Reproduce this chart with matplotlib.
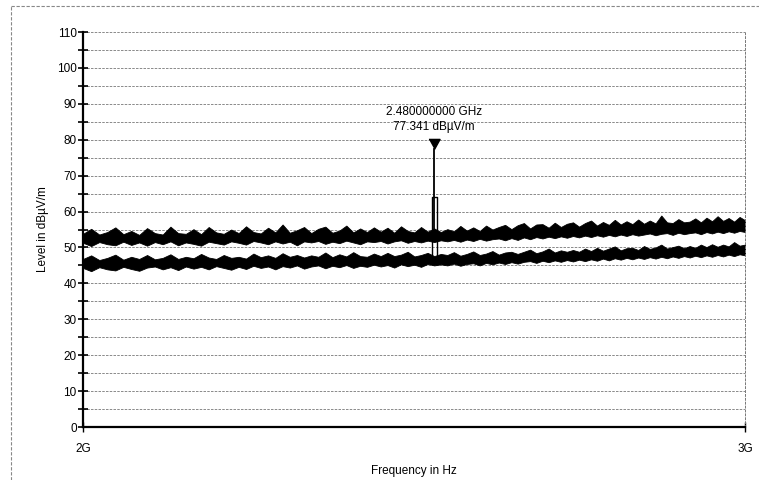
import matplotlib
matplotlib.use("Agg")
import matplotlib.pyplot as plt
from matplotlib.lines import Line2D
from matplotlib.ticker import MultipleLocator, NullLocator, FixedLocator, FixedFormatter
import numpy as np

plt.rcParams["font.family"] = ["Liberation Sans", "DejaVu Sans"]

# sweep frequencies in GHz
freq_ghz = [2.00, 2.01, 2.02, 2.03, 2.04, 2.05, 2.06, 2.07, 2.08, 2.09,
            2.10, 2.11, 2.12, 2.13, 2.14, 2.15, 2.16, 2.17, 2.18, 2.19,
            2.20, 2.21, 2.22, 2.23, 2.24, 2.25, 2.26, 2.27, 2.28, 2.29,
            2.30, 2.31, 2.32, 2.33, 2.34, 2.35, 2.36, 2.37, 2.38, 2.39,
            2.40, 2.41, 2.42, 2.43, 2.44, 2.45, 2.46, 2.47, 2.48, 2.49,
            2.50, 2.51, 2.52, 2.53, 2.54, 2.55, 2.56, 2.57, 2.58, 2.59,
            2.60, 2.61, 2.62, 2.63, 2.64, 2.65, 2.66, 2.67, 2.68, 2.69,
            2.70, 2.71, 2.72, 2.73, 2.74, 2.75, 2.76, 2.77, 2.78, 2.79,
            2.80, 2.81, 2.82, 2.83, 2.84, 2.85, 2.86, 2.87, 2.88, 2.89,
            2.90, 2.91, 2.92, 2.93, 2.94, 2.95, 2.96, 2.97, 2.98, 2.99,
            3.00]

# peak trace (upper band) envelope, dBuV/m
peak_hi = [53.8, 55.2, 53.6, 54.3, 55.6, 53.7, 54.6, 53.5, 55.4, 54.0,
           53.6, 55.8, 54.0, 53.8, 55.1, 53.7, 55.7, 54.2, 53.8, 55.0,
           54.0, 55.9, 54.3, 53.9, 55.5, 54.2, 56.4, 54.1, 54.8, 55.7,
           54.0, 55.2, 55.8, 54.1, 54.7, 56.1, 54.2, 55.3, 54.3, 55.6,
           54.4, 55.5, 54.1, 55.9, 54.6, 54.2, 55.7, 54.4, 55.3, 54.3,
           55.1, 54.5, 56.0, 54.7, 55.6, 54.6, 56.1, 55.0, 55.7, 56.3,
           55.1, 56.2, 56.8, 55.3, 56.4, 56.5, 55.5, 56.9, 55.7, 56.6,
           57.0, 55.8, 56.8, 57.5, 56.1, 57.1, 56.3, 57.7, 56.4, 57.3,
           56.5, 57.8, 56.6, 57.5, 56.7, 58.9, 57.0, 56.8, 57.9, 57.0,
           57.2, 58.1, 57.0, 58.3, 57.3, 58.7, 57.4, 58.2, 57.2, 58.5,
           57.6]
peak_lo = [51.3, 50.4, 51.5, 50.9, 50.6, 51.6, 50.7, 51.4, 50.5, 51.5,
           50.9, 51.7, 50.6, 51.4, 51.0, 50.5, 51.6, 51.2, 50.8, 51.7,
           51.3, 50.8, 51.8, 51.4, 50.9, 51.7, 51.1, 51.6, 50.6, 51.7,
           51.4, 51.8, 51.0, 51.6, 51.2, 51.9, 51.4, 50.9, 51.7, 51.5,
           51.8, 51.1, 51.7, 52.0, 51.3, 51.8, 51.4, 51.9, 51.5, 52.0,
           51.7, 52.1, 51.6, 52.2, 51.8, 52.4, 51.9, 52.3, 52.5, 52.0,
           52.6, 52.1, 52.8, 52.3, 52.9, 52.5, 53.0, 52.6, 53.1, 52.7,
           53.2, 52.8, 53.3, 52.9, 53.4, 53.0, 53.5, 53.1, 53.6, 53.2,
           53.7, 53.3, 53.6, 53.9, 53.4, 53.8, 54.0, 53.5, 54.1, 53.7,
           54.0, 54.2, 53.7, 54.3, 53.9, 54.4, 54.0, 54.5, 54.1, 54.6,
           54.3]

# average trace (lower band) envelope
avg_hi = [46.8, 47.8, 46.5, 47.1, 48.0, 46.6, 47.4, 46.8, 47.9, 46.7,
          47.1, 48.1, 46.8, 47.4, 47.0, 48.2, 47.2, 46.8, 47.9, 47.1,
          47.4, 46.9, 48.3, 47.3, 47.8, 47.1, 48.4, 47.4, 47.9, 47.2,
          47.8, 47.4, 48.6, 47.3, 48.1, 47.5, 48.7, 47.6, 47.4, 48.3,
          47.6, 48.5, 47.6, 48.0, 48.8, 47.5, 47.9, 48.5, 47.6, 48.2,
          47.9, 48.7, 47.7, 48.2, 48.9, 47.9, 48.3, 49.0, 48.0, 48.6,
          48.8, 48.2, 48.8, 49.4, 48.4, 48.9, 49.7, 48.6, 49.2, 48.8,
          49.3, 48.8, 49.7, 49.0, 49.9, 49.1, 49.7, 50.3, 49.2, 49.8,
          49.9, 49.3, 50.4, 49.6, 50.0, 50.8, 49.7, 50.1, 50.5, 49.8,
          50.4, 49.9, 50.8, 50.1, 50.9, 50.2, 50.8, 50.3, 51.5, 50.5,
          50.8]
avg_lo = [44.3, 43.4, 44.5, 43.9, 43.6, 44.6, 44.0, 43.5, 44.4, 44.7,
          43.9, 44.5, 43.7, 44.7, 44.1, 44.6, 43.9, 44.8, 44.3, 43.8,
          44.6, 44.0, 44.9, 44.3, 44.7, 43.9, 44.8, 44.4, 45.0, 44.1,
          44.7, 45.0, 44.2, 44.9, 44.5, 45.1, 44.3, 44.9, 44.6, 45.2,
          44.7, 45.1, 44.4, 45.3, 44.8, 45.2, 44.6, 45.4, 45.0, 45.3,
          45.0, 45.5, 44.9, 45.4, 45.6, 45.0, 45.7, 45.3, 45.8, 45.4,
          45.9, 45.5, 46.0, 46.2, 45.7, 46.3, 45.9, 46.4, 46.0, 46.5,
          46.1, 46.6, 46.2, 46.7, 46.3, 46.9, 46.4, 47.0, 46.6, 47.1,
          46.7, 47.2, 46.8, 47.3, 46.9, 47.4, 47.0, 47.5, 47.1, 47.6,
          47.2, 47.7, 47.3, 47.8, 47.4, 47.9, 47.5, 48.0, 47.6, 48.1,
          47.8]

# carrier spike
marker_f = 2.48
marker_level = 77.341
spike_base = 54.0
avg_spike_f = [2.4765, 2.4765, 2.4835, 2.4835]
avg_spike_y = [46.0, 64.0, 64.0, 46.0]

f = np.array(freq_ghz) * 1e9

fig = plt.figure(figsize=(7.59, 4.80), dpi=100)
ax = fig.add_axes([0.1094, 0.1104, 0.8722, 0.8229])

ax.fill_between(f, peak_lo, peak_hi, color="black", lw=0.6)
ax.fill_between(f, avg_lo, avg_hi, color="black", lw=0.6)
ax.plot([marker_f * 1e9] * 2, [spike_base, marker_level], color="black", lw=1.3)
ax.plot(np.array(avg_spike_f) * 1e9, avg_spike_y, color="black", lw=1.0)

# marker triangle with apex on the level
tri = [(-0.55, 1.0), (0.55, 1.0), (0.0, 0.0)]
ax.plot([marker_f * 1e9], [marker_level], marker=tri, markersize=14.5,
        color="black", linestyle="none")
ax.text(marker_f * 1e9, 87.7, "2.480000000 GHz", ha="center", va="center", fontsize=8.5)
ax.text(marker_f * 1e9, 83.6, "77.341 dB\u00b5V/m", ha="center", va="center", fontsize=8.5)

ax.set_xscale("log")
ax.set_xlim(2e9, 3e9)
ax.set_ylim(0, 110)
ax.xaxis.set_major_locator(FixedLocator([2e9, 3e9]))
ax.xaxis.set_major_formatter(FixedFormatter(["2G", "3G"]))
ax.xaxis.set_minor_locator(NullLocator())
ax.yaxis.set_major_locator(MultipleLocator(10))
ax.yaxis.set_minor_locator(MultipleLocator(5))

for y in range(5, 115, 5):
    ax.axhline(y, color="#777777", lw=0.6, ls=(0, (3, 1.5)), zorder=0)

ax.spines["top"].set_visible(False)
ax.spines["right"].set_color("#777777")
ax.spines["right"].set_linestyle((0, (2, 2)))
ax.spines["right"].set_linewidth(0.7)
ax.spines["left"].set_linewidth(1.6)
ax.spines["bottom"].set_linewidth(1.6)

ax.tick_params(axis="y", which="both", direction="inout", length=7, width=1.2, labelsize=8.5, pad=1)
ax.tick_params(axis="x", which="major", direction="inout", length=7, width=1.0, labelsize=8.5, pad=8)

ax.set_ylabel("Level in dB\u00b5V/m", fontsize=8.5, labelpad=6)
ax.set_xlabel("Frequency in Hz", fontsize=8.5, labelpad=7)

# dashed outer frame
fig.add_artist(Line2D([11 / 759, 11 / 759], [0, 1 - 6 / 480], transform=fig.transFigure,
                      color="#888888", lw=0.8, ls=(0, (3, 1.5))))
fig.add_artist(Line2D([11 / 759, 1], [1 - 6 / 480, 1 - 6 / 480], transform=fig.transFigure,
                      color="#888888", lw=0.8, ls=(0, (3, 1.5))))

fig.savefig("out.png", dpi=100)
plt.close(fig)
